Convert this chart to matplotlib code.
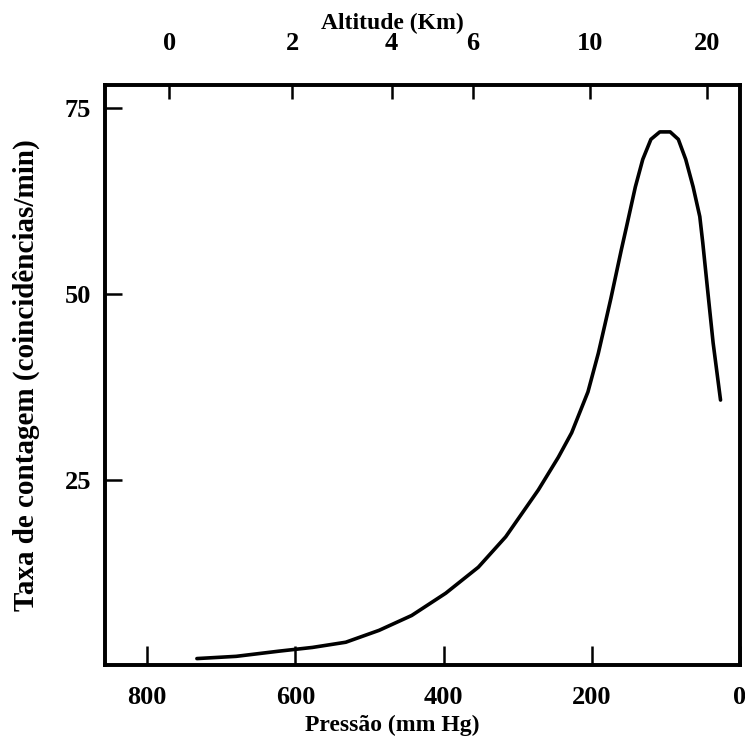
import matplotlib
matplotlib.use("Agg")
import matplotlib.pyplot as plt

# Pfotzer-style curve: counting rate vs atmospheric pressure
pressure = [733, 680, 622, 577, 532, 487, 443, 397, 353, 316, 272, 245, 227,
            205, 191, 182, 174, 160, 153, 141, 131, 120, 108, 94, 83, 73, 63,
            54, 50, 43, 36, 26]
rate = [0.9, 1.2, 1.9, 2.4, 3.1, 4.7, 6.7, 9.7, 13.2, 17.3, 23.6, 28.0, 31.3,
        36.8, 42.0, 45.9, 49.4, 55.9, 59.0, 64.4, 68.1, 70.8, 71.8, 71.8, 70.8,
        68.1, 64.4, 60.4, 56.9, 50.1, 43.4, 35.7]

pressure_ticks = [800, 600, 400, 200, 0]
rate_ticks = [25, 50, 75]

# altitude labels on top, placed at their pressure
altitude_labels = ["0", "2", "4", "6", "10", "20"]
altitude_pressure = [770, 604, 470, 360, 202, 44]

plt.rcParams["font.family"] = ["Liberation Serif", "DejaVu Serif"]
plt.rcParams["font.weight"] = "bold"

fig = plt.figure(figsize=(7.45, 7.40), dpi=100)
ax = fig.add_axes([0.141, 0.101, 0.852, 0.784])

ax.plot(pressure, rate, color="black", linewidth=2.6,
        solid_capstyle="round", solid_joinstyle="round")

ax.set_xlim(857, 0)
ax.set_ylim(0, 78.1)
ax.set_xticks(pressure_ticks)
ax.set_xticklabels([str(p) for p in pressure_ticks])
ax.set_yticks(rate_ticks)
ax.tick_params(axis="x", direction="in", length=14, width=1.8, pad=15, labelsize=19)
ax.tick_params(axis="y", direction="in", length=12, width=1.8, pad=10, labelsize=19)
for s in ax.spines.values():
    s.set_linewidth(2.6)

ax.set_xlabel("Pressão (mm Hg)", fontsize=17, fontweight="bold", labelpad=4)
ax.xaxis.label.set_x(0.452)
ax.set_ylabel("Taxa de contagem (coincidências/min)", fontsize=21,
              fontweight="bold", labelpad=18)

top = ax.twiny()
top.set_xlim(ax.get_xlim())
top.set_xticks(altitude_pressure)
top.set_xticklabels(altitude_labels)
top.tick_params(axis="x", direction="in", length=10, width=1.8, pad=22, labelsize=19)
top.set_xlabel("Altitude (Km)", fontsize=17, fontweight="bold", labelpad=2)
top.xaxis.label.set_x(0.452)
for s in top.spines.values():
    s.set_linewidth(2.6)

fig.savefig("out.png", dpi=100)
